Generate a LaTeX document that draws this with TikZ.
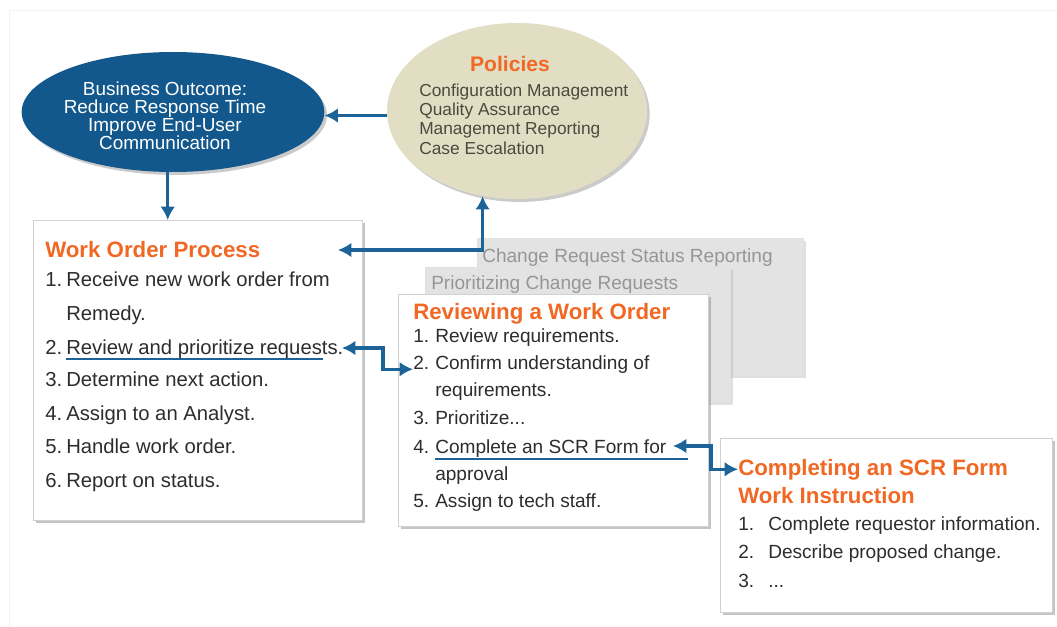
\documentclass[tikz,border=0pt]{standalone}
\usepackage{fontspec}
\setmainfont{Liberation Sans}
\usetikzlibrary{shapes.geometric,shadows,arrows.meta,positioning}

\definecolor{outcomeblue}{RGB}{18,88,140}
\definecolor{linkblue}{RGB}{28,100,152}
\definecolor{policybeige}{RGB}{226,222,196}
\definecolor{headorange}{RGB}{240,104,36}
\definecolor{bodygray}{RGB}{45,45,45}
\definecolor{policygray}{RGB}{75,72,62}
\definecolor{ghostgray}{RGB}{150,150,150}

\def\etc{...}

\tikzset{
  panel/.style={draw=black!18, fill=white, anchor=north west, inner sep=0pt,
    drop shadow={shadow xshift=2pt, shadow yshift=-2.2pt, fill=black!45, opacity=0.5}},
  ghost/.style={draw=black!12, fill=black!11, anchor=north west, inner sep=0pt,
    drop shadow={shadow xshift=2pt, shadow yshift=-2pt, fill=black!30, opacity=0.4}},
  bubble/.style={ellipse, inner sep=0pt,
    drop shadow={shadow xshift=2pt, shadow yshift=-2.2pt, fill=black!45, opacity=0.45}},
  heading/.style={anchor=base west, inner sep=0pt, text=headorange,
    font=\bfseries\fontsize{16.7}{20}\selectfont},
  wopitem/.style={anchor=base west, inner sep=0pt, text=bodygray,
    font=\fontsize{15.2}{18}\selectfont},
  item/.style={anchor=base west, inner sep=0pt, text=bodygray,
    font=\fontsize{14.3}{17}\selectfont},
  ghosttext/.style={anchor=base west, inner sep=0pt, text=ghostgray,
    font=\fontsize{14.3}{17}\selectfont},
  policyline/.style={anchor=base west, inner sep=0pt, text=policygray,
    font=\fontsize{13}{14.5}\selectfont},
  conn/.style={draw=linkblue, line width=2.5pt, -{Latex[length=10pt,width=11pt]}},
  dconn/.style={draw=linkblue, line width=2.5pt, {Latex[length=10pt,width=11pt]}-{Latex[length=10pt,width=11pt]}},
  uline/.style={draw=linkblue, line width=0.9pt}
}

\begin{document}
\begin{tikzpicture}[x=0.75pt,y=-0.75pt]
  \useasboundingbox (0,0) rectangle (1057,627);
  \draw[black!5] (9,627) -- (9,10) -- (1057,10);

  % Top ellipses
  \node[bubble, fill=outcomeblue, minimum width=227pt, minimum height=90pt] (outcome) at (173,112) {};
  \node[align=center, text=white, inner sep=0pt, font=\fontsize{14.2}{13.4}\selectfont]
    (outcomelbl) at (165,116) {Business Outcome:\\Reduce Response Time\\Improve End-User\\Communication};
  \node[bubble, fill=policybeige, minimum width=195pt, minimum height=132pt] (policies) at (517,111) {};
  \node[heading, anchor=base, font=\bfseries\fontsize{15.8}{18}\selectfont] (poltitle) at (510,72) {Policies};
  \foreach \k/\t/\y in {1/Configuration Management/97, 2/Quality Assurance/116,
                        3/Management Reporting/135, 4/Case Escalation/155}{
    \node[policyline] (pol\k) at (419,\y) {\t};
  }

  % Work Order Process
  \node[panel, minimum width=246.75pt, minimum height=225pt] (wop) at (33,220) {};
  \node[heading] (woptitle) at (45,258) {Work Order Process};
  \foreach \n/\t/\y in {1/Receive new work order from/287, 2/Review and prioritize requests./354,
                        3/Determine next action./387, 4/Assign to an Analyst./420,
                        5/Handle work order./453, 6/Report on status./487}{
    \node[wopitem] (wopn\n) at (45,\y) {\n.};
    \node[wopitem] (wopt\n) at (66,\y) {\t};
  }
  \node[wopitem] (wopt1b) at (66,321) {Remedy.};

  % Stacked procedure sheets
  \node[ghost, minimum width=244.5pt, minimum height=102.75pt] (statusbox) at (477,238) {};
  \node[ghosttext] (statustext) at (482,263) {Change Request Status Reporting};
  \node[ghost, minimum width=228.75pt, minimum height=101.25pt] (priobox) at (425,267) {};
  \node[ghosttext] (priotext) at (431,290) {Prioritizing Change Requests};

  % Reviewing a Work Order
  \node[panel, minimum width=232.5pt, minimum height=174pt] (review) at (398,294) {};
  \node[heading] (reviewtitle) at (413,320) {Reviewing a Work Order};
  \foreach \n/\t/\y in {1/Review requirements./343, 2/Confirm understanding of/369,
                        3/Prioritize\etc/424, 4/Complete an SCR Form for/453,
                        5/Assign to tech staff./507}{
    \node[item] (rwon\n) at (413,\y) {\n.};
    \node[item] (rwot\n) at (435,\y) {\t};
  }
  \node[item] (rwot2b) at (435,397) {requirements.};
  \node[item] (rwot4b) at (435,480) {approval};

  % Completing an SCR Form
  \node[panel, minimum width=249pt, minimum height=130.5pt] (scr) at (720,438) {};
  \node[heading] (scrtitle) at (738,475) {Completing an SCR Form};
  \node[heading] (scrtitleb) at (738,503) {Work Instruction};
  \foreach \n/\t/\y in {1/Complete requestor information./530, 2/Describe proposed change./558, 3/\etc/587}{
    \node[item] (scrn\n) at (738,\y) {\n.};
    \node[item] (scrt\n) at (768,\y) {\t};
  }

  % Underlines
  \draw[uline] ([yshift=-3.8pt]wopt2.base west) -- ++(257,0);
  \draw[uline] ([yshift=-4.5pt]rwot4.base west) -- ++(253,0);

  % Connectors
  \coordinate (wopin) at (338,250);
  \coordinate (reqtip) at (342,348);
  \coordinate (scrtip) at (673,446);
  \draw[conn] (policies.182) -- (policies.182 -| outcome.east);
  \draw[conn] (outcome.265) -- (outcome.265 |- wop.north);
  \draw[dconn] (wopin) -| (policies.248);
  \draw[dconn] (reqtip) -- ++(41,0) |- (rwon2.south west);
  \draw[dconn] (scrtip) -- ++(38,0) |- (scrtitle.west);
\end{tikzpicture}
\end{document}
